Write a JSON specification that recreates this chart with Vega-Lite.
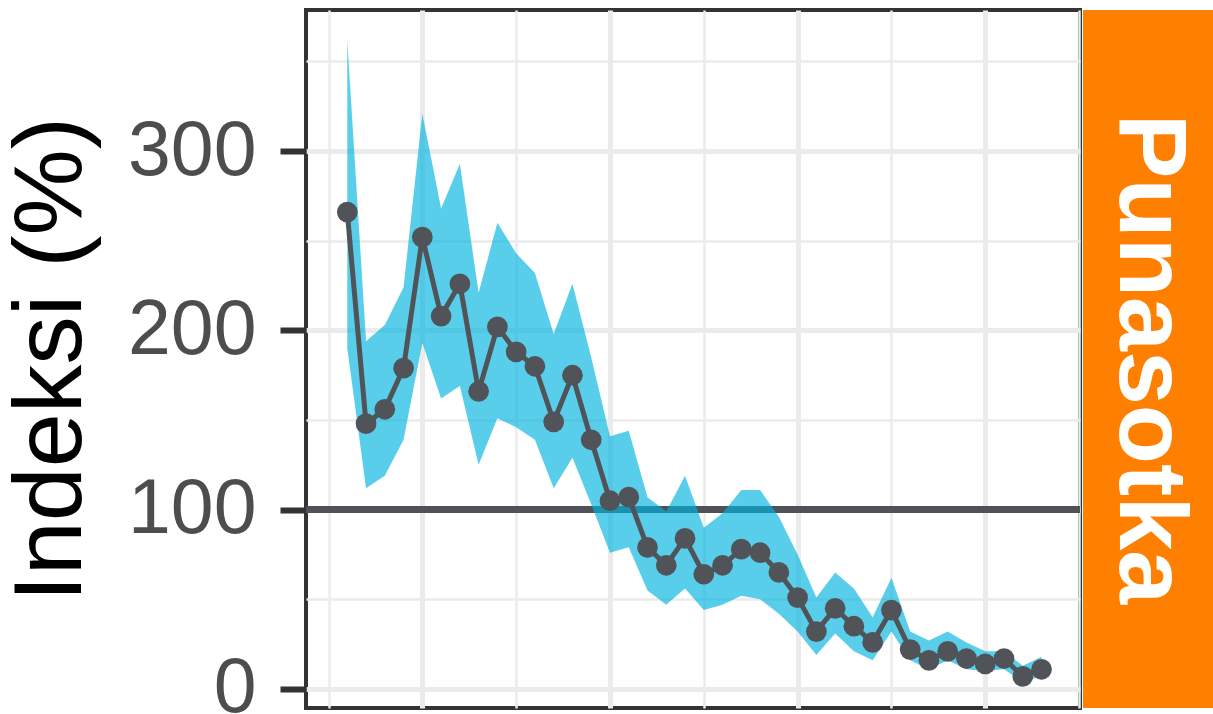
{
  "$schema": "https://vega.github.io/schema/vega-lite/v6.json",
  "padding": {"left": 0, "top": 8, "right": 0, "bottom": 0},
  "background": "white",
  "bounds": "flush",
  "spacing": 3,
  "config": {
    "font": "Liberation Sans"
  },
  "data": {
    "values": [
      {"year": 1986, "index": 266, "lower": 190, "upper": 362},
      {"year": 1987, "index": 148, "lower": 112, "upper": 194},
      {"year": 1988, "index": 156, "lower": 119, "upper": 203},
      {"year": 1989, "index": 179, "lower": 139, "upper": 224},
      {"year": 1990, "index": 252, "lower": 193, "upper": 321},
      {"year": 1991, "index": 208, "lower": 162, "upper": 268},
      {"year": 1992, "index": 226, "lower": 169, "upper": 293},
      {"year": 1993, "index": 166, "lower": 125, "upper": 221},
      {"year": 1994, "index": 202, "lower": 151, "upper": 260},
      {"year": 1995, "index": 188, "lower": 146, "upper": 243},
      {"year": 1996, "index": 180, "lower": 139, "upper": 232},
      {"year": 1997, "index": 149, "lower": 112, "upper": 198},
      {"year": 1998, "index": 175, "lower": 129, "upper": 226},
      {"year": 1999, "index": 139, "lower": 103, "upper": 185},
      {"year": 2000, "index": 105, "lower": 76, "upper": 141},
      {"year": 2001, "index": 107, "lower": 79, "upper": 144},
      {"year": 2002, "index": 79, "lower": 55, "upper": 107},
      {"year": 2003, "index": 69, "lower": 47, "upper": 99},
      {"year": 2004, "index": 84, "lower": 56, "upper": 119},
      {"year": 2005, "index": 64, "lower": 44, "upper": 90},
      {"year": 2006, "index": 69, "lower": 47, "upper": 98},
      {"year": 2007, "index": 78, "lower": 52, "upper": 111},
      {"year": 2008, "index": 76, "lower": 50, "upper": 111},
      {"year": 2009, "index": 65, "lower": 42, "upper": 96},
      {"year": 2010, "index": 51, "lower": 32, "upper": 75},
      {"year": 2011, "index": 32, "lower": 19, "upper": 51},
      {"year": 2012, "index": 45, "lower": 31, "upper": 65},
      {"year": 2013, "index": 35, "lower": 21, "upper": 56},
      {"year": 2014, "index": 26, "lower": 16, "upper": 40},
      {"year": 2015, "index": 44, "lower": 32, "upper": 62},
      {"year": 2016, "index": 22, "lower": 16, "upper": 32},
      {"year": 2017, "index": 16, "lower": 11, "upper": 27},
      {"year": 2018, "index": 21, "lower": 16, "upper": 32},
      {"year": 2019, "index": 17, "lower": 11, "upper": 26},
      {"year": 2020, "index": 14, "lower": 10, "upper": 21},
      {"year": 2021, "index": 17, "lower": 11, "upper": 21},
      {"year": 2022, "index": 7, "lower": 4, "upper": 13},
      {"year": 2023, "index": 11, "lower": 7, "upper": 18}
    ]
  },
  "hconcat": [
    {
      "width": 774,
      "height": 698,
      "view": {"stroke": "#333333", "strokeWidth": 4},
      "layer": [
        {
          "mark": {"type": "rule", "color": "#4F5257", "strokeWidth": 6},
          "encoding": {
            "y": {
              "datum": 100,
              "type": "quantitative",
              "scale": {"domain": [-10.6, 378.7], "nice": false, "zero": false},
              "title": "Indeksi (%)",
              "axis": {
                "values": [0, 50, 100, 150, 200, 250, 300, 350],
                "labelExpr": "datum.value % 100 === 0 ? datum.label : ''",
                "labelOverlap": false,
                "grid": true,
                "gridColor": "#EBEBEB",
                "gridWidth": {"condition": {"test": "datum.value % 100 === 0", "value": 5}, "value": 2.5},
                "tickOpacity": {"condition": {"test": "datum.value % 100 === 0", "value": 1}, "value": 0},
                "tickSize": 26,
                "tickWidth": 6,
                "tickColor": "#333333",
                "domain": false,
                "labelFontSize": 77,
                "labelColor": "#4D4D4D",
                "labelPadding": 24,
                "titleFontSize": 97,
                "titleFontWeight": "normal",
                "titleColor": "#000000",
                "titlePadding": 27
              }
            }
          }
        },
        {
          "mark": {"type": "area", "color": "#00B4E0", "opacity": 0.65},
          "encoding": {
            "x": {
              "field": "year",
              "type": "quantitative",
              "scale": {"domain": [1983.8, 2025.05], "nice": false, "zero": false},
              "axis": {
                "values": [1985, 1990, 1995, 2000, 2005, 2010, 2015, 2020, 2025],
                "labels": false,
                "ticks": false,
                "domain": false,
                "title": null,
                "grid": true,
                "gridColor": "#EBEBEB",
                "gridWidth": {"condition": {"test": "datum.value % 10 === 0", "value": 5}, "value": 2.5}
              }
            },
            "y": {"field": "upper", "type": "quantitative", "scale": {"domain": [-10.6, 378.7], "nice": false, "zero": false}, "title": "Indeksi (%)"},
            "y2": {"field": "lower"}
          }
        },
        {
          "mark": {"type": "line", "color": "#505358", "strokeWidth": 5},
          "encoding": {
            "x": {"field": "year", "type": "quantitative", "scale": {"domain": [1983.8, 2025.05], "nice": false, "zero": false}},
            "y": {"field": "index", "type": "quantitative", "scale": {"domain": [-10.6, 378.7], "nice": false, "zero": false}, "title": "Indeksi (%)"}
          }
        },
        {
          "mark": {"type": "circle", "color": "#505358", "opacity": 1, "size": 430},
          "encoding": {
            "x": {"field": "year", "type": "quantitative", "scale": {"domain": [1983.8, 2025.05], "nice": false, "zero": false}},
            "y": {"field": "index", "type": "quantitative", "scale": {"domain": [-10.6, 378.7], "nice": false, "zero": false}, "title": "Indeksi (%)"}
          }
        }
      ]
    },
    {
      "width": 131,
      "height": 698,
      "view": {"fill": "#FF7F00", "stroke": null},
      "data": {"values": [{"label": "Punasotka"}]},
      "mark": {"type": "text", "angle": 90, "fontSize": 97, "fontWeight": "bold", "color": "#FFFFFF", "align": "center", "baseline": "middle"},
      "encoding": {"text": {"field": "label", "type": "nominal"}}
    }
  ]
}
